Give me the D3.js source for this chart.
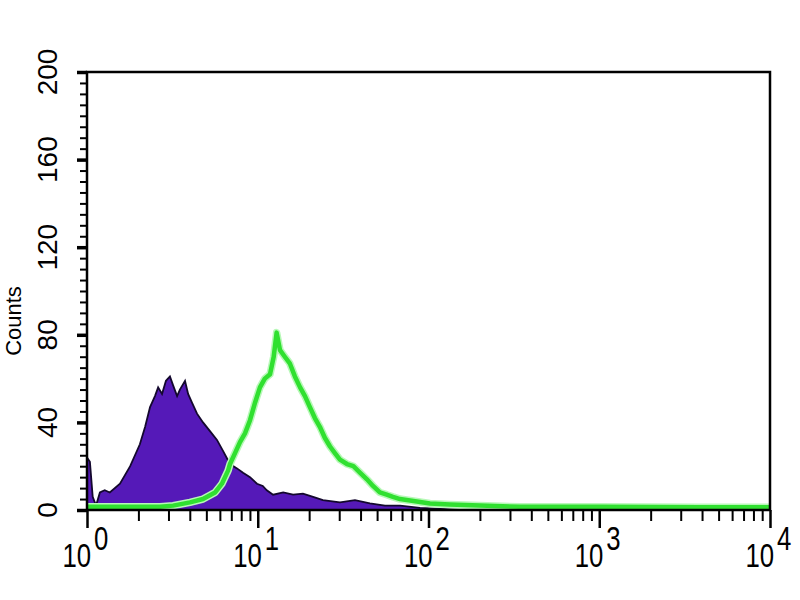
<!DOCTYPE html>
<meta charset="utf-8">
<title>Flow cytometry histogram</title>
<style>
body { margin: 0; background: #fff; }
text { font-family: "Liberation Sans", Arial, sans-serif; fill: #000; }
</style>
<div id="chart"></div>
<script src="https://d3js.org/d3.v7.min.js"></script>
<script>

// control (purple, filled) - fluorescence value and counts
var controlX = [1.00, 1.04, 1.08, 1.13, 1.19, 1.27, 1.36, 1.56, 1.79, 2.04, 2.19, 2.34, 2.50, 2.61, 2.75,
  2.90, 3.06, 3.19, 3.37, 3.50, 3.75, 3.91, 4.12, 4.41, 4.78, 5.25, 5.77, 6.26, 6.88, 7.56, 8.20, 9.01,
  9.90, 10.7, 11.3, 12.3, 14.1, 16.1, 18.4, 21.1, 24.1, 30.3, 37.1, 45.4, 55.6, 68.1, 89.2, 117, 153];
var controlY = [24, 22, 6, 2, 8, 9, 8, 12, 20, 30, 38, 47, 52, 56, 53,
  59, 61, 57, 52, 55, 59, 53, 49, 44, 40, 36, 32, 27, 21, 19, 17, 15,
  12, 11, 9, 7, 8, 7, 7.5, 6, 4.5, 3.5, 4.5, 3, 2, 2, 1, 0.5, 0];

// sample (green line)
var sampleX = [1.00, 1.56, 2.68, 3.19, 4.01, 4.78, 5.62, 6.17, 6.70, 6.88, 7.36, 7.87, 8.42, 9.01, 9.64,
  10.3, 11.0, 11.8, 12.4, 12.9, 13.5, 14.4, 15.4, 16.5, 17.7, 18.9, 20.2, 21.6, 23.1, 24.7, 26.5, 28.3,
  30.3, 33.3, 36.3, 39.8, 43.6, 47.3, 51.9, 56.9, 61.9, 68.1, 83.5, 102, 133, 200, 344, 1010, 3870, 10000];
var sampleY = [1.5, 1.5, 1.5, 2, 3.5, 5, 8, 12, 18, 21, 26, 31, 35, 41, 49,
  56, 60, 62, 70, 81, 73, 70, 67, 61, 56, 52, 47, 42, 38, 33, 29, 26,
  23, 21, 20, 17, 14, 11, 8, 7, 6, 5, 4, 3, 2.5, 2, 1.5, 1.5, 1.2, 1.2];

var yTicks = [0, 40, 80, 120, 160, 200];
var xDecades = [0, 1, 2, 3, 4];

var margin = {top: 72, right: 30, bottom: 90, left: 87},
    width = 800 - margin.left - margin.right,
    height = 600 - margin.top - margin.bottom;

var svg = d3.select("#chart").append("svg")
    .attr("width", 800)
    .attr("height", 600)
  .append("g")
    .attr("transform", "translate(" + margin.left + "," + margin.top + ")");

var x = d3.scaleLog().domain([1, 10000]).range([0, width]);
var y = d3.scaleLinear().domain([0, 200]).range([height, 0]);

var control = controlX.map(function(d, i) { return {x: d, y: controlY[i]}; });
var sample = sampleX.map(function(d, i) { return {x: d, y: sampleY[i]}; });

// purple filled histogram
var area = d3.area()
  .x(function(d) { return x(d.x); })
  .y0(y(0))
  .y1(function(d) { return y(d.y); });
svg.append("path")
  .datum(control)
  .attr("d", area)
  .attr("fill", "#5519b8")
  .attr("stroke", "#14082e")
  .attr("stroke-width", 1.8);

// green line
var line = d3.line()
  .x(function(d) { return x(d.x); })
  .y(function(d) { return y(d.y); });
svg.append("path")
  .datum(sample)
  .attr("d", line)
  .attr("fill", "none")
  .attr("stroke", "#b8f8b8")
  .attr("stroke-width", 7.5)
  .attr("stroke-linejoin", "round");
svg.append("path")
  .datum(sample)
  .attr("d", line)
  .attr("fill", "none")
  .attr("stroke", "#30e030")
  .attr("stroke-width", 4.5)
  .attr("stroke-linejoin", "round");

// frame
svg.append("rect")
  .attr("width", width)
  .attr("height", height)
  .attr("fill", "none")
  .attr("stroke", "#000")
  .attr("stroke-width", 2.5);

// y axis ticks (minor every 5, major every 40)
var yMinor = d3.range(0, 201, 5);
svg.append("g")
  .call(d3.axisLeft(y).tickValues(yMinor).tickSize(7).tickFormat(""))
  .call(function(g) { g.select(".domain").remove(); g.selectAll("line").attr("stroke-width", 2); });
svg.append("g")
  .call(d3.axisLeft(y).tickValues(yTicks).tickSize(10).tickFormat(""))
  .call(function(g) { g.select(".domain").remove(); g.selectAll("line").attr("stroke-width", 3.5); });

svg.selectAll(".ylab")
  .data(yTicks)
  .enter().append("text")
    .attr("class", "ylab")
    .attr("transform", function(d) { return "translate(" + (-30) + "," + y(d) + ") rotate(-90)"; })
    .attr("text-anchor", "middle")
    .style("font-size", "28px")
    .text(function(d) { return d; });

svg.append("text")
  .attr("transform", "translate(" + (-66) + "," + (height / 2 + 30) + ") rotate(-90)")
  .attr("text-anchor", "middle")
  .style("font-size", "22px")
  .text("Counts");

// x axis ticks (log, minor 2..9, major per decade)
var xMinor = [];
xDecades.slice(0, -1).forEach(function(e) {
  for (var k = 2; k <= 9; k++) xMinor.push(k * Math.pow(10, e));
});
svg.append("g")
  .attr("transform", "translate(0," + height + ")")
  .call(d3.axisBottom(x).tickValues(xMinor).tickSize(11).tickFormat(""))
  .call(function(g) { g.select(".domain").remove(); g.selectAll("line").attr("stroke-width", 2); });
svg.append("g")
  .attr("transform", "translate(0," + height + ")")
  .call(d3.axisBottom(x).tickValues(xDecades.map(function(e) { return Math.pow(10, e); })).tickSize(18).tickFormat(""))
  .call(function(g) { g.select(".domain").remove(); g.selectAll("line").attr("stroke-width", 2.5); });

var xl = svg.selectAll(".xlab")
  .data(xDecades)
  .enter().append("g")
    .attr("class", "xlab")
    .attr("transform", function(d) { return "translate(" + x(Math.pow(10, d)) + "," + height + ")"; });
xl.append("text")
  .attr("transform", "translate(4,57) scale(0.78,1)")
  .attr("text-anchor", "end")
  .style("font-size", "33px")
  .text("10");
xl.append("text")
  .attr("transform", "translate(7,40) scale(0.78,1)")
  .attr("text-anchor", "start")
  .style("font-size", "33px")
  .text(function(d) { return d; });

</script>
